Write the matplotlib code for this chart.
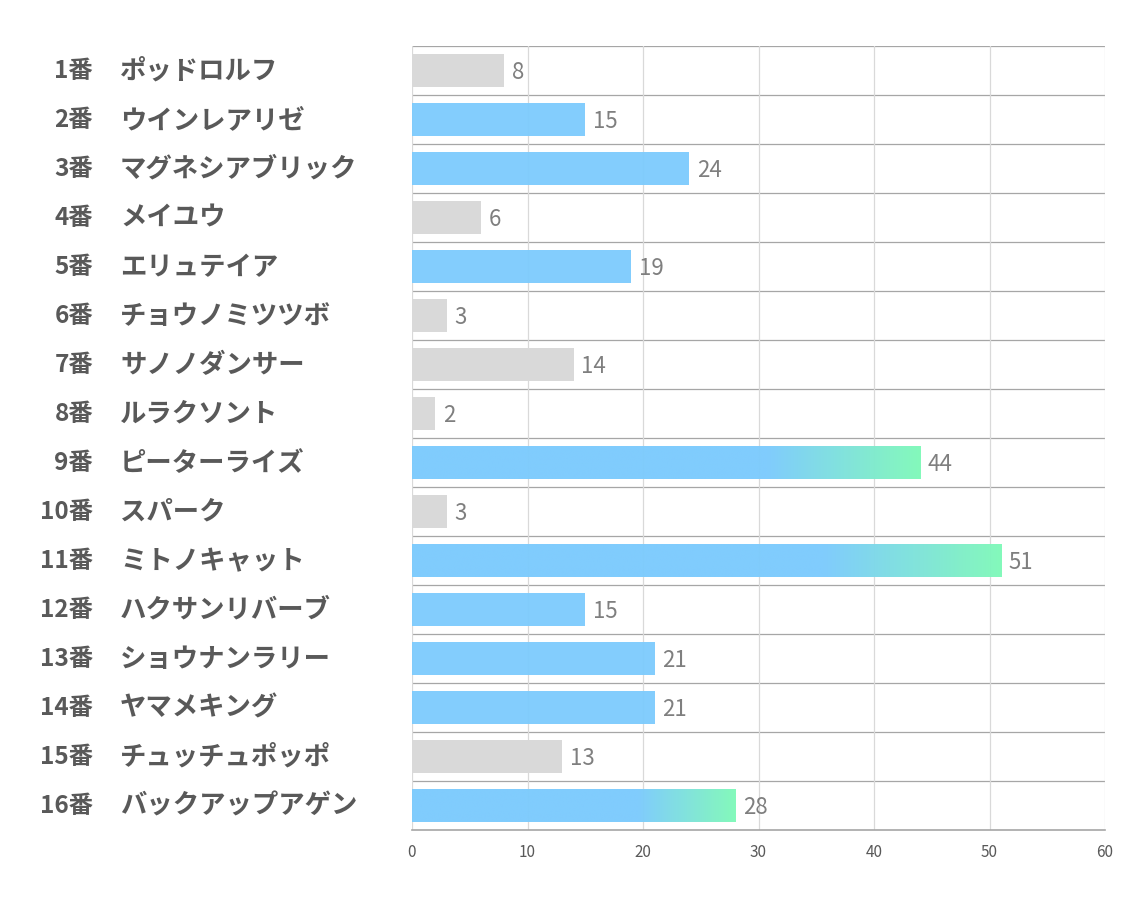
import numpy as np
import matplotlib.pyplot as plt
from matplotlib.colors import LinearSegmentedColormap

plt.rcParams['font.family'] = ['Noto Sans CJK JP', 'DejaVu Sans']

# data
numbers = ['1番', '2番', '3番', '4番', '5番', '6番', '7番', '8番',
           '9番', '10番', '11番', '12番', '13番', '14番', '15番', '16番']
names = ['ポッドロルフ', 'ウインレアリゼ', 'マグネシアブリック', 'メイユウ',
         'エリュテイア', 'チョウノミツツボ', 'サノノダンサー', 'ルラクソント',
         'ピーターライズ', 'スパーク', 'ミトノキャット', 'ハクサンリバーブ',
         'ショウナンラリー', 'ヤマメキング', 'チュッチュポッポ', 'バックアップアゲン']
values = [8, 15, 24, 6, 19, 3, 14, 2, 44, 3, 51, 15, 21, 21, 13, 28]
kinds = ['gray', 'blue', 'blue', 'gray', 'blue', 'gray', 'gray', 'gray',
         'grad', 'gray', 'grad', 'blue', 'blue', 'blue', 'gray', 'grad']
xticks = [0, 10, 20, 30, 40, 50, 60]

GRAY = '#d9d9d9'
BLUE = '#7ccbfd'
GREEN = '#80f9b9'
# blue for the first 70% of the bar, then fading to green
grad_cmap = LinearSegmentedColormap.from_list('bg', [(0, BLUE), (0.7, BLUE), (1, GREEN)], N=256)

fig = plt.figure(figsize=(11.34, 9.07), dpi=100)
ax = fig.add_axes([412 / 1134, 1 - 830 / 907, 693 / 1134, 784 / 907])

n = len(values)
h = 0.67

for i, (v, k) in enumerate(zip(values, kinds)):
    if k == 'grad':
        img = np.linspace(0, 1, 256).reshape(1, -1)
        ax.imshow(img, cmap=grad_cmap, extent=(0, v, i + h / 2, i - h / 2),
                  aspect='auto', zorder=2, alpha=0.97, interpolation='bilinear')
    else:
        ax.barh(i, v, height=h, color=GRAY if k == 'gray' else BLUE,
                zorder=2, alpha=0.95 if k == 'blue' else 1.0)
    ax.text(v + 0.65, i + 0.05, str(v), va='center', ha='left',
            fontsize=16, color='#7f7f7f')

ax.set_xlim(0, 60)
ax.set_ylim(n - 0.5, -0.5)
ax.set_xticks(xticks)
ax.set_yticks([])
ax.tick_params(axis='x', length=0, labelsize=11, labelcolor='#595959', pad=10)

ax.grid(axis='x', color='#d9d9d9', linewidth=0.9, zorder=0)
for b in np.arange(-0.5, n - 0.5, 1.0):
    ax.axhline(b, color='#a6a6a6', linewidth=0.9, zorder=1)

for s in ['top', 'right', 'left']:
    ax.spines[s].set_visible(False)
ax.spines['bottom'].set_color('#a6a6a6')
ax.spines['bottom'].set_linewidth(1.2)

for i in range(n):
    fig_y = ax.transData.transform((0, i + 0.02))[1] / fig.dpi / fig.get_figheight()
    fig.text(93 / 1134, fig_y, numbers[i], ha='right', va='center',
             fontsize=17.5, fontweight='bold', color='#595959')
    fig.text(120 / 1134, fig_y, names[i], ha='left', va='center',
             fontsize=19, fontweight='bold', color='#595959')

fig.savefig('out.png', dpi=100)
